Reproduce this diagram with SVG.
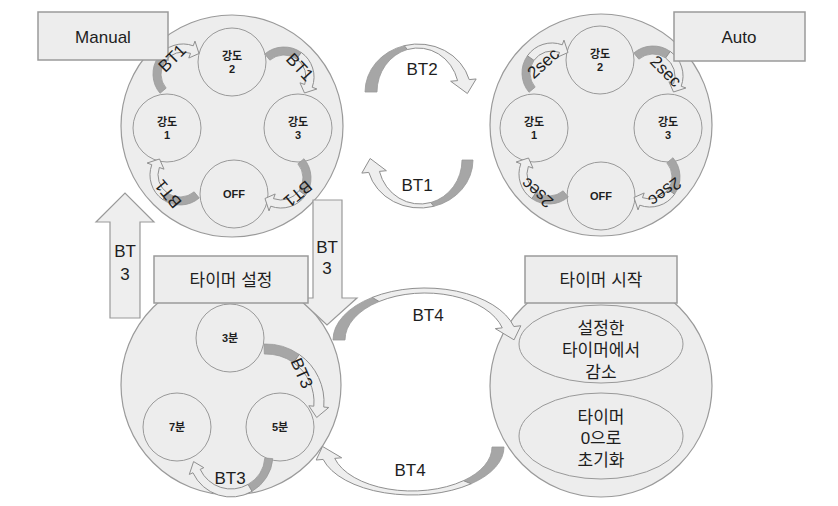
<svg xmlns="http://www.w3.org/2000/svg" xmlns:xlink="http://www.w3.org/1999/xlink" width="838" height="506" viewBox="0 0 838 506">
<style>
.big{fill:#ededed;stroke:#9a9a9a;stroke-width:1.2}
.sm{fill:#ededed;stroke:#999;stroke-width:1}
.box{fill:#ededed;stroke:#9a9a9a;stroke-width:1.5}
.dk{fill:#a6a6a6;stroke:#999;stroke-width:0.8}
.lt{fill:#eeeeee;stroke:#8f8f8f;stroke-width:1}
.blk{fill:#eeeeee;stroke:#999;stroke-width:1.2}
text{font-family:"Liberation Sans","Noto Sans CJK KR",sans-serif;fill:#1e1e1e;text-anchor:middle}
.t17{font-size:17px}
.t11{font-size:11px;font-weight:bold}
</style>
<defs>
<g id="sa">
<path class="dk" d="M-22.98,19.28 A30,30 0 0 1 -24.58,-17.21 L-18.02,-12.62 A22,22 0 0 0 -16.85,14.14 Z"/>
<path class="lt" d="M-24.58,-17.21 A30,30 0 0 1 10.26,-28.19 L11.97,-32.89 L16.01,-20.49 L5.81,-15.97 L7.52,-20.67 A22,22 0 0 0 -18.02,-12.62 Z"/>
</g>
</defs>
<rect width="838" height="506" fill="#ffffff"/>

<g id="manual-mode">
<circle class="big" cx="232" cy="126" r="111"/>
<g id="m-s2"><circle class="sm" cx="232" cy="62" r="34"/><text class="t11" x="232" y="60">강도</text><text class="t11" x="232" y="73">2</text></g>
<g id="m-s1"><circle class="sm" cx="167" cy="128" r="34"/><text class="t11" x="167" y="126">강도</text><text class="t11" x="167" y="139">1</text></g>
<g id="m-s3"><circle class="sm" cx="298" cy="128" r="34"/><text class="t11" x="298" y="126">강도</text><text class="t11" x="298" y="139">3</text></g>
<g id="m-off"><circle class="sm" cx="234" cy="194" r="34"/><text class="t11" x="234" y="198">OFF</text></g>
</g>

<g id="auto-mode">
<circle class="big" cx="601" cy="125" r="111"/>
<g id="a-s2"><circle class="sm" cx="600" cy="60" r="34"/><text class="t11" x="600" y="58">강도</text><text class="t11" x="600" y="71">2</text></g>
<g id="a-s1"><circle class="sm" cx="534" cy="128" r="34"/><text class="t11" x="534" y="126">강도</text><text class="t11" x="534" y="139">1</text></g>
<g id="a-s3"><circle class="sm" cx="668" cy="128" r="34"/><text class="t11" x="668" y="126">강도</text><text class="t11" x="668" y="139">3</text></g>
<g id="a-off"><circle class="sm" cx="601" cy="196" r="34"/><text class="t11" x="601" y="200">OFF</text></g>
</g>

<g id="timer-set">
<circle class="big" cx="231" cy="385" r="110"/>
<g id="t3"><circle class="sm" cx="230" cy="338" r="34"/><text class="t11" x="230" y="342">3분</text></g>
<g id="t7"><circle class="sm" cx="177" cy="427" r="34"/><text class="t11" x="177" y="431">7분</text></g>
<g id="t5"><circle class="sm" cx="280" cy="427" r="34"/><text class="t11" x="280" y="431">5분</text></g>
</g>

<g id="timer-start">
<circle class="big" cx="601" cy="386" r="111"/>
<g id="dec"><ellipse class="sm" cx="601" cy="344" rx="82" ry="39"/>
<text class="t17" x="601" y="334">설정한</text><text class="t17" x="601" y="356">타이머에서</text><text class="t17" x="601" y="378">감소</text></g>
<g id="reset"><ellipse class="sm" cx="601" cy="436" rx="82" ry="43"/>
<text class="t17" x="601" y="423">타이머</text><text class="t17" x="601" y="444">0으로</text><text class="t17" x="601" y="466">초기화</text></g>
</g>

<g id="connectors">
<use xlink:href="#sa" transform="translate(232 126) rotate(0) translate(-49 -52)"/>
<use xlink:href="#sa" transform="translate(232 126) rotate(90) translate(-49 -52)"/>
<use xlink:href="#sa" transform="translate(232 126) rotate(180) translate(-49 -52)"/>
<use xlink:href="#sa" transform="translate(232 126) rotate(270) translate(-49 -52)"/>
<use xlink:href="#sa" transform="translate(601 125) rotate(0) translate(-49 -52)"/>
<use xlink:href="#sa" transform="translate(601 125) rotate(90) translate(-49 -52)"/>
<use xlink:href="#sa" transform="translate(601 125) rotate(180) translate(-49 -52)"/>
<use xlink:href="#sa" transform="translate(601 125) rotate(270) translate(-49 -52)"/>

<path class="dk" d="M365,92 A53,48 0 0 1 404.28,45.64 L407.39,49.50 A41,44 0 0 0 377,92 Z"/>
<path class="lt" d="M404.28,45.64 A53,48 0 0 1 469.19,79.58 L476.16,78.96 L467.37,93.52 L450.63,81.23 L457.60,80.61 A41,44 0 0 0 407.39,49.50 Z"/>
<path class="dk" d="M473,160 A53,48 0 0 1 433.72,206.36 L430.87,202.50 A42,44 0 0 0 462,160 Z"/>
<path class="lt" d="M433.72,206.36 A53,48 0 0 1 368.81,172.42 L361.84,173.10 L370.15,158.48 L386.40,170.71 L379.43,171.39 A42,44 0 0 0 430.87,202.50 Z"/>

<path class="dk" d="M333,340 A92,52 0 0 1 372.23,297.40 L379.11,301.50 A80,47 0 0 0 345,340 Z"/>
<path class="lt" d="M372.23,297.40 A92,52 0 0 1 513.87,326.54 L520.83,325.76 L514.06,339.85 L495.31,328.62 L502.27,327.84 A80,47 0 0 0 379.11,301.50 Z"/>
<path class="dk" d="M504,447 A92,48 0 0 1 471.14,483.77 L463.42,480.70 A80,44 0 0 0 492,447 Z"/>
<path class="lt" d="M471.14,483.77 A92,48 0 0 1 323.13,459.42 L316.16,460.04 L322.53,446.45 L341.70,457.77 L334.73,458.39 A80,44 0 0 0 463.42,480.70 Z"/>

<path class="dk" d="M263.98,344.03 A58,58 0 0 1 299.27,354.49 L293.53,362.68 A48,48 0 0 0 264.32,354.03 Z"/>
<path class="lt" d="M299.27,354.49 A58,58 0 0 1 323.78,407.06 L328.76,407.49 L316.68,417.50 L308.84,405.75 L313.82,406.19 A48,48 0 0 0 293.53,362.68 Z"/>
<path class="dk" d="M272.84,458.66 A42,42 0 0 1 252,491.37 L248,484.44 A34,34 0 0 0 264.87,457.96 Z"/>
<path class="lt" d="M252,491.37 A42,42 0 0 1 192.94,472.75 L189.31,474.44 L193.58,461.60 L203.81,467.68 L200.19,469.37 A34,34 0 0 0 248,484.44 Z"/>

<path class="blk" d="M110,318 L140,318 L140,222 L154,222 L125,193 L96,222 L110,222 Z"/>
<path class="blk" d="M313,200 L342,200 L342,298 L357,298 L327,325 L298,298 L313,298 Z"/>
</g>

<g id="manual-label"><rect class="box" x="38" y="12" width="130" height="48"/><text class="t17" x="103" y="43">Manual</text></g>
<g id="auto-label"><rect class="box" x="674" y="12" width="131" height="49"/><text class="t17" x="739" y="43">Auto</text></g>
<g id="timer-set-label"><rect class="box" x="154" y="256" width="154" height="47"/><text class="t17" x="231" y="286">타이머 설정</text></g>
<g id="timer-start-label"><rect class="box" x="525" y="256" width="152" height="47"/><text class="t17" x="601" y="286">타이머 시작</text></g>

<g id="connector-labels">
<text class="t17" transform="translate(172 58) rotate(-45)" y="6">BT1</text>
<text class="t17" transform="translate(300 67) rotate(47)" y="6">BT1</text>
<text class="t17" transform="translate(298 194) rotate(140)" y="6">BT1</text>
<text class="t17" transform="translate(168 194) rotate(230)" y="6">BT1</text>
<text class="t17" transform="translate(543 63) rotate(-42)" y="6">2sec</text>
<text class="t17" transform="translate(666 71) rotate(45)" y="6">2sec</text>
<text class="t17" transform="translate(665 192) rotate(143)" y="6">2sec</text>
<text class="t17" transform="translate(537 193) rotate(221)" y="6">2sec</text>
<text class="t17" x="422" y="75">BT2</text>
<text class="t17" x="417" y="191">BT1</text>
<text class="t17" x="125" y="257">BT</text>
<text class="t17" x="125" y="280">3</text>
<text class="t17" x="327" y="253">BT</text>
<text class="t17" x="327" y="274">3</text>
<text class="t17" x="428" y="321">BT4</text>
<text class="t17" x="410" y="476">BT4</text>
<text class="t17" transform="translate(302 373) rotate(66)" y="6">BT3</text>
<text class="t17" x="230" y="484">BT3</text>
</g>
</svg>
